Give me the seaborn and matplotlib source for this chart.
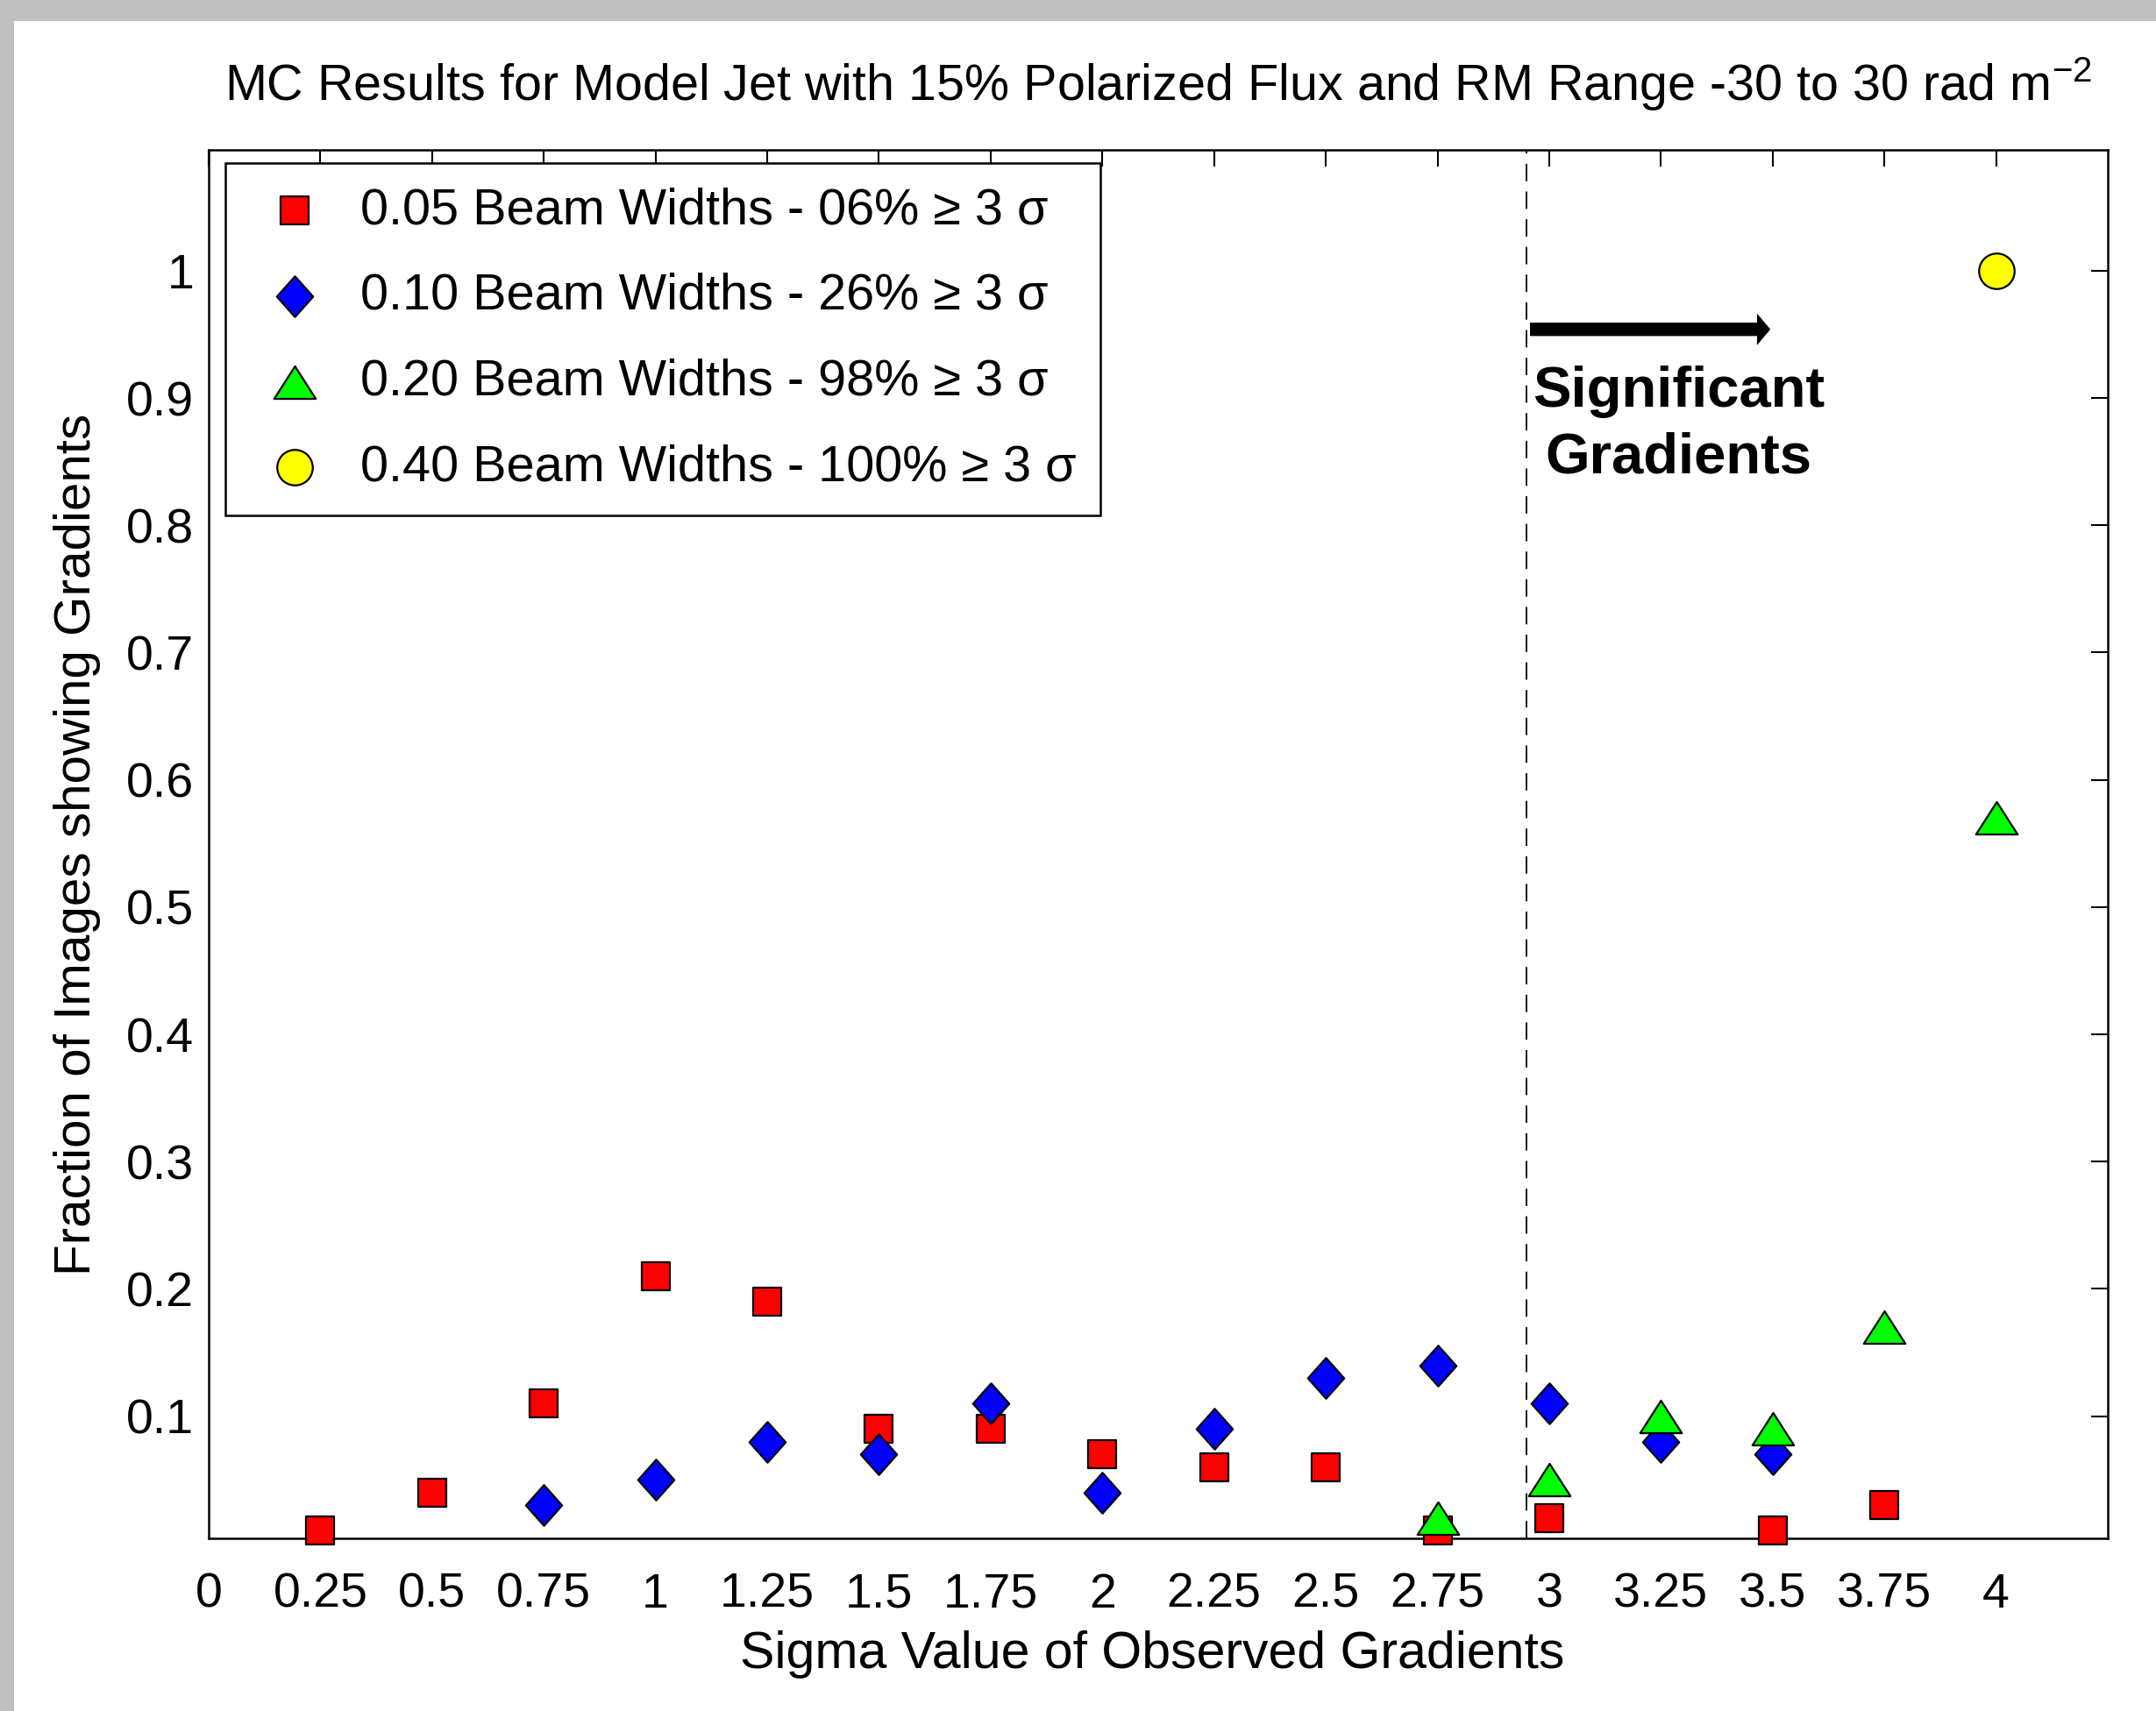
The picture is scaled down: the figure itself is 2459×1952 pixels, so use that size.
import seaborn as sns
import matplotlib.pyplot as plt
import pandas as pd
import numpy as np
from matplotlib.path import Path
from matplotlib.patches import Rectangle

# valores
sigma_005 = [0.25, 0.5, 0.75, 1.0, 1.25, 1.5, 1.75, 2.0, 2.25, 2.5, 2.75, 3.0, 3.5, 3.75]
frac_005 = [0.01, 0.04, 0.11, 0.21, 0.19, 0.09, 0.09, 0.07, 0.06, 0.06, 0.01, 0.02, 0.01, 0.03]

sigma_010 = [0.75, 1.0, 1.25, 1.5, 1.75, 2.0, 2.25, 2.5, 2.75, 3.0, 3.25, 3.5]
frac_010 = [0.03, 0.05, 0.08, 0.07, 0.11, 0.04, 0.09, 0.13, 0.14, 0.11, 0.08, 0.07]

sigma_020 = [2.75, 3.0, 3.25, 3.5, 3.75, 4.0]
frac_020 = [0.02, 0.05, 0.10, 0.09, 0.17, 0.57]

sigma_040 = [4.0]
frac_040 = [1.0]

etiquetas = ['0.05 Beam Widths - 06% \u2265 3 \u03c3',
             '0.10 Beam Widths - 26% \u2265 3 \u03c3',
             '0.20 Beam Widths - 98% \u2265 3 \u03c3',
             '0.40 Beam Widths - 100% \u2265 3 \u03c3']

xticks = [0, 0.25, 0.5, 0.75, 1, 1.25, 1.5, 1.75, 2, 2.25, 2.5, 2.75, 3, 3.25, 3.5, 3.75, 4]
xtick_labels = ['0', '0.25', '0.5', '0.75', '1', '1.25', '1.5', '1.75', '2', '2.25', '2.5',
                '2.75', '3', '3.25', '3.5', '3.75', '4']
yticks = [0.1, 0.2, 0.3, 0.4, 0.5, 0.6, 0.7, 0.8, 0.9, 1.0]
ytick_labels = ['0.1', '0.2', '0.3', '0.4', '0.5', '0.6', '0.7', '0.8', '0.9', '1']

sns.set_theme(style='white')
plt.rcParams['font.family'] = ['Liberation Sans', 'DejaVu Sans']
plt.rcParams['mathtext.fontset'] = 'custom'
plt.rcParams['mathtext.rm'] = 'Liberation Sans'
plt.rcParams['mathtext.it'] = 'Liberation Sans'
plt.rcParams['text.color'] = 'black'
plt.rcParams['axes.labelcolor'] = 'black'

# marcadores estilo MATLAB
rombo = Path([(0, 1), (0.89, 0), (0, -1), (-0.89, 0), (0, 1)],
             [Path.MOVETO, Path.LINETO, Path.LINETO, Path.LINETO, Path.CLOSEPOLY])
triangulo = Path([(-1, -0.78), (1, -0.78), (0, 0.78), (-1, -0.78)],
                 [Path.MOVETO, Path.LINETO, Path.LINETO, Path.CLOSEPOLY])

series = [
    (sigma_005, frac_005, etiquetas[0], '#ff0000', 's', 520),
    (sigma_010, frac_010, etiquetas[1], '#0000ff', rombo, 1120),
    (sigma_020, frac_020, etiquetas[2], '#00ff00', triangulo, 1170),
    (sigma_040, frac_040, etiquetas[3], '#ffff00', 'o', 850),
]

fig = plt.figure(figsize=(24.59, 19.52), dpi=100)
fig.patch.set_facecolor('white')
ax = fig.add_axes([238 / 2459, 1 - 1755 / 1952, (2404 - 238) / 2459, (1755 - 171) / 1952])

# borde gris de la ventana
fig.add_artist(Rectangle((0, 1 - 24 / 1952), 1, 24 / 1952, transform=fig.transFigure,
                         facecolor='#c0c0c0', edgecolor='none'))
fig.add_artist(Rectangle((0, 0), 16 / 2459, 1, transform=fig.transFigure,
                         facecolor='#c0c0c0', edgecolor='none'))

ax.axvline(2.95, color='black', linewidth=1.3, dashes=(11, 6.5), zorder=1)

for xs, ys, etiqueta, color, marcador, tam in series:
    df = pd.DataFrame({'Sigma': xs, 'Fraccion': ys})
    sns.scatterplot(data=df, x='Sigma', y='Fraccion', marker=marcador, s=tam,
                    color=color, edgecolor='black', linewidth=1.6,
                    label=etiqueta, ax=ax, clip_on=False, zorder=3)

ax.set_xlim(0, 4.25)
ax.set_ylim(0.004, 1.095)
ax.set_xticks(xticks)
ax.set_xticklabels(xtick_labels)
ax.set_yticks(yticks)
ax.set_yticklabels(ytick_labels)
ax.tick_params(axis='both', direction='in', length=14, width=1.5, top=True, right=True,
               labelsize=40, colors='black')
ax.tick_params(axis='x', pad=28)
ax.tick_params(axis='y', pad=12)
for sp in ax.spines.values():
    sp.set_visible(True)
    sp.set_color('black')
    sp.set_linewidth(1.8)

ax.set_xlabel('Sigma Value of Observed Gradients', fontsize=42.5)
ax.set_ylabel('Fraction of Images showing Gradients', fontsize=42)
ax.xaxis.set_label_coords(0.497, -0.066)
ax.yaxis.set_label_coords(-0.057, 0.5)
ax.set_title('MC Results for Model Jet with 15% Polarized Flux and RM Range -30 to 30 rad m$^{-2}$',
             fontsize=41.4, pad=40)

# flecha y texto de gradientes significativos
ax.annotate('', xy=(3.495, 0.954), xytext=(2.957, 0.954),
            arrowprops=dict(width=11, headwidth=26, headlength=11, facecolor='black',
                            edgecolor='none', shrink=0))
ax.text(3.29, 0.879, 'Significant\nGradients', ha='center', va='center', fontsize=47,
        fontweight='bold', linespacing=1.33)

leg = ax.legend(loc='upper left', bbox_to_anchor=(0.0088, 0.9905), borderaxespad=0,
                fontsize=41.5, frameon=True, fancybox=False, framealpha=1,
                labelspacing=0.76, handletextpad=0.4, borderpad=0.47, handlelength=1.8)
leg.get_frame().set_edgecolor('black')
leg.get_frame().set_linewidth(1.8)

plt.savefig('out.png', dpi=100)
plt.close()
